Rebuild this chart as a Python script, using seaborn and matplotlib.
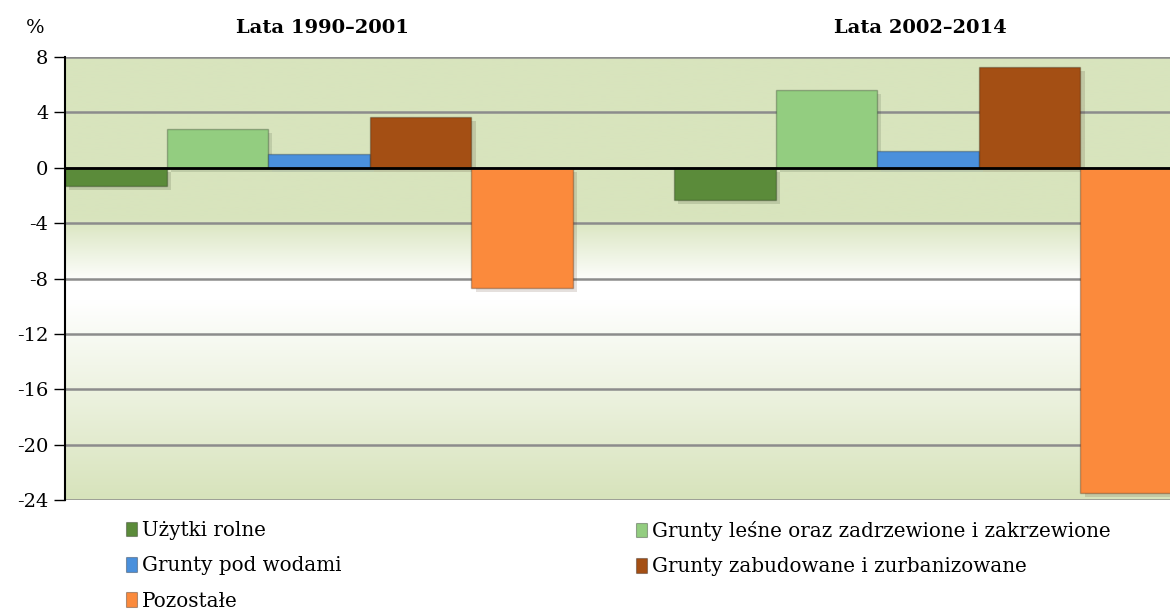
import numpy as np
import pandas as pd
import seaborn as sns
import matplotlib
matplotlib.use("Agg")
import matplotlib.pyplot as plt
import matplotlib.patheffects as pe
from matplotlib.patches import Patch
from matplotlib.colors import to_rgb

# dane: zmiana powierzchni (%)
okresy = ["Lata 1990–2001", "Lata 2002–2014"]
kategorie = ["Użytki rolne", "Grunty leśne oraz zadrzewione i zakrzewione",
             "Grunty pod wodami", "Grunty zabudowane i zurbanizowane", "Pozostałe"]
uzytki_rolne = [-1.3, -2.3]
grunty_lesne = [2.8, 5.6]
grunty_pod_wodami = [1.0, 1.2]
grunty_zabudowane = [3.7, 7.3]
pozostale = [-8.7, -23.5]
y_ticks = [8, 4, 0, -4, -8, -12, -16, -20, -24]

kolory = ["#5b8b3a", "#93cd80", "#4a90dc", "#a44f14", "#fb8a3c"]

wartosci = [uzytki_rolne, grunty_lesne, grunty_pod_wodami, grunty_zabudowane, pozostale]
rows = []
for kat, vals in zip(kategorie, wartosci):
    for okres, v in zip(okresy, vals):
        rows.append({"okres": okres, "kategoria": kat, "zmiana": v})
df = pd.DataFrame(rows)

sns.set_style("white")
plt.rcParams['font.family'] = ['DejaVu Serif']
plt.rcParams['text.color'] = 'black'
plt.rcParams['ytick.color'] = 'black'

fig = plt.figure(figsize=(11.7, 6.1), dpi=100)
ax = fig.add_axes([65 / 1170, 1 - 500 / 610, (1182 - 65) / 1170, (500 - 57) / 610])

# tło z gradientem (zielony - biały - zielony)
zielony = np.array(to_rgb("#d8e4bd"))
zielony2 = np.array(to_rgb("#d7e3bb"))
bialy = np.array([1.0, 1.0, 1.0])
yy = np.linspace(8, -24, 400)
stops_y = [8, -3.6, -8.3, -9.6, -24]
stops_c = [zielony, zielony, bialy, bialy, zielony2]
grad = np.stack([np.interp(-yy, [-s for s in stops_y], [c[i] for c in stops_c]) for i in range(3)], axis=-1)
ax.imshow(grad[:, None, :], extent=(0, 1, 0, 1), transform=ax.transAxes,
          aspect='auto', zorder=0, interpolation='bilinear')

sns.barplot(data=df, x="okres", y="zmiana", hue="kategoria", hue_order=kategorie,
            palette=kolory, width=0.834, saturation=1, legend=False, ax=ax, zorder=2)

for bar in ax.patches:
    bar.set_edgecolor((0, 0, 0, 0.25))
    bar.set_linewidth(1.0)
    bar.set_path_effects([pe.SimplePatchShadow(offset=(3, -3), alpha=0.14), pe.Normal()])

ax.set_xlim(-0.417, 1.417)
ax.set_ylim(-24, 8)
ax.set_yticks(y_ticks)
ax.set_yticklabels([str(t) for t in y_ticks], fontsize=14)
ax.set_xticks([])
ax.set_xlabel("")
ax.set_ylabel("")

ax.grid(axis='y', color='#8c8c8c', linewidth=1.8)
ax.set_axisbelow(True)
ax.axhline(0, color='black', linewidth=2, zorder=4)

for s in ["top", "right", "bottom"]:
    ax.spines[s].set_visible(False)
ax.spines["left"].set_color("black")
ax.spines["left"].set_linewidth(1.5)
ax.tick_params(axis='y', direction='out', length=8, width=1, color='black', pad=4, left=True)

fig.text(35 / 1170, 1 - 28 / 610, "%", fontsize=14, ha='center', va='center')
fig.text(322 / 1170, 1 - 28 / 610, okresy[0], fontsize=14, fontweight='bold', ha='center', va='center')
fig.text(920 / 1170, 1 - 28 / 610, okresy[1], fontsize=14, fontweight='bold', ha='center', va='center')

uchwyty = [Patch(facecolor=k, edgecolor=(0, 0, 0, 0.3), linewidth=0.8) for k in kolory]
kol1 = [0, 2, 4]
kol2 = [1, 3]
for kol, x0 in [(kol1, 118), (kol2, 628)]:
    fig.legend([uchwyty[i] for i in kol], [kategorie[i] for i in kol],
               loc='upper left', bbox_to_anchor=(x0 / 1170, 1 - 513 / 610),
               frameon=False, fontsize=14.3, handlelength=0.55, handleheight=0.75,
               handletextpad=0.25, labelspacing=0.82, borderaxespad=0)

fig.savefig("out.png", dpi=100)
